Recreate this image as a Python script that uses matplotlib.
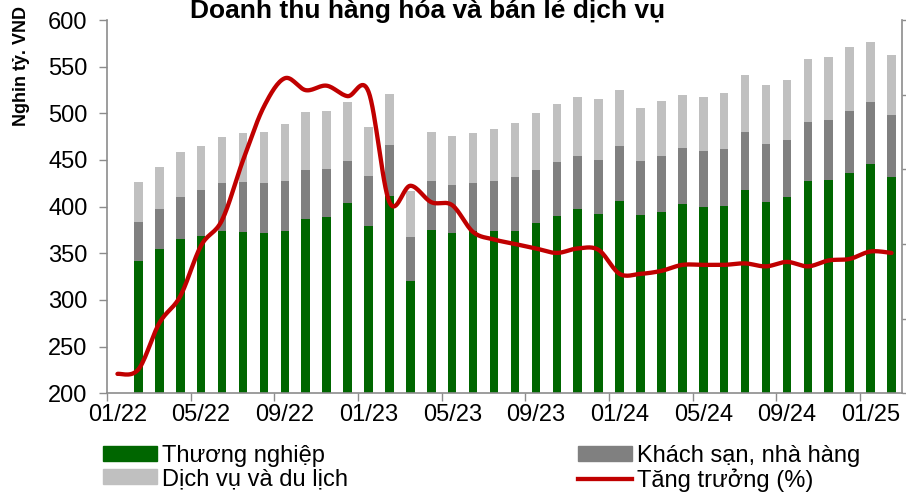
import numpy as np
import matplotlib
matplotlib.use('Agg')
import matplotlib.pyplot as plt
from matplotlib.patches import Patch
from matplotlib.lines import Line2D

plt.rcParams['font.family'] = ['Liberation Sans', 'DejaVu Sans']

# monthly data 01/22 .. 02/25 (thousand bn VND), 01/22 not shown
months = ["%02d/%02d" % (m, y) for y in (22, 23, 24, 25) for m in range(1, 13)][:38]
tick_labels = ["01/22", "05/22", "09/22", "01/23", "05/23", "09/23",
               "01/24", "05/24", "09/24", "01/25"]

thuong_nghiep = [np.nan, 341.5, 355.1, 365.8, 369.0, 374.0, 373.0, 371.9, 374.0, 386.9,
                 389.4, 404.1, 379.8, 411.7, 320.7, 375.4, 372.2, 373.7, 373.4, 374.4,
                 382.3, 390.5, 398.0, 392.6, 406.5, 391.5, 394.7, 403.3, 399.8, 401.2,
                 418.3, 405.4, 410.2, 428.0, 429.0, 436.2, 446.2, 432.3]
khach_san = [np.nan, 42.2, 42.8, 45.0, 49.0, 51.5, 53.6, 53.6, 54.0, 51.9,
             51.4, 44.7, 53.5, 54.5, 47.2, 52.2, 51.5, 52.1, 54.6, 57.2,
             56.8, 57.5, 56.4, 57.9, 58.7, 57.9, 59.7, 59.7, 60.3, 61.1,
             61.9, 62.2, 61.7, 62.6, 63.7, 65.8, 66.2, 66.1]
dich_vu = [np.nan, 42.5, 44.4, 47.6, 47.5, 49.3, 52.2, 54.4, 60.8, 62.8,
           61.9, 63.2, 51.9, 54.0, 49.0, 52.3, 51.9, 53.3, 55.4, 57.5,
           61.1, 62.2, 63.3, 65.1, 59.3, 55.8, 58.3, 56.9, 57.6, 59.7,
           61.1, 62.3, 63.7, 67.9, 67.9, 69.3, 64.3, 64.3]
tang_truong = [1.3, 1.6, 4.7, 6.5, 9.9, 11.6, 15.6, 19.2, 21.1, 20.3,
               20.6, 19.9, 20.2, 12.8, 13.9, 12.8, 12.6, 10.8, 10.3, 10.0,
               9.7, 9.4, 9.7, 9.6, 8.0, 8.0, 8.2, 8.6, 8.6, 8.6,
               8.7, 8.5, 8.8, 8.5, 8.9, 9.0, 9.5, 9.4]

GREEN = '#006600'
GRAY = '#808080'
LIGHT = '#c0c0c0'
RED = '#c00000'
AXIS = '#8c8c8c'


def smooth(xs, ys, n=16):
    # catmull-rom curve through the points, like Excel's smoothed line
    p = np.column_stack([xs, ys]).astype(float)
    p = np.vstack([p[0], p, p[-1]])
    out = []
    t = np.linspace(0, 1, n, endpoint=False)[:, None]
    for i in range(1, len(p) - 2):
        p0, p1, p2, p3 = p[i - 1], p[i], p[i + 1], p[i + 2]
        seg = 0.5 * (2 * p1 + (-p0 + p2) * t + (2 * p0 - 5 * p1 + 4 * p2 - p3) * t ** 2
                     + (-p0 + 3 * p1 - 3 * p2 + p3) * t ** 3)
        out.append(seg)
    out.append(p[-2][None, :])
    out = np.vstack(out)
    return out[:, 0], out[:, 1]


fig = plt.figure(figsize=(9.06, 4.94), dpi=100)
ax = fig.add_axes([107 / 906, 1 - 393.3 / 494, 795 / 906, 373.3 / 494])

x = np.arange(len(months))
g = np.array(thuong_nghiep)
k = np.array(khach_san)
d = np.array(dich_vu)
w = 0.41
ax.bar(x, g, w, color=GREEN, zorder=2)
ax.bar(x, k, w, bottom=g, color=GRAY, zorder=2)
ax.bar(x, d, w, bottom=g + k, color=LIGHT, zorder=2)

ax.set_xlim(-0.5, len(months) - 0.5)
ax.set_ylim(200, 600)
ax.set_yticks(range(200, 601, 50))

major = np.arange(-0.5, len(months) - 1, 4)
ax.set_xticks(major)
ax.set_xticklabels([])
ax.set_xticks(np.arange(0, len(months), 4), minor=True)
ax.set_xticklabels(tick_labels, minor=True)
ax.tick_params(axis='x', which='major', direction='out', length=6, width=1, color=AXIS)
ax.tick_params(axis='x', which='minor', length=0, pad=8, labelsize=17)
ax.tick_params(axis='y', direction='out', length=6, width=1, color=AXIS, pad=8, labelsize=17)

for s in ('top', 'right'):
    ax.spines[s].set_visible(False)
for s in ('left', 'bottom'):
    ax.spines[s].set_color(AXIS)
    ax.spines[s].set_linewidth(1.2)

ax2 = ax.twinx()
ax2.set_ylim(0, 25)
ax2.set_yticks(range(0, 26, 5))
ax2.tick_params(axis='y', direction='out', length=5, width=1, color=AXIS, labelright=False)
for s in ('top', 'left', 'bottom'):
    ax2.spines[s].set_visible(False)
ax2.spines['right'].set_color(AXIS)
ax2.spines['right'].set_linewidth(1.2)
sx, sy = smooth(x, tang_truong)
ax2.plot(sx, sy, color=RED, lw=3.1, solid_capstyle='round', zorder=3)

fig.text(428 / 906, 1 - 18 / 494, 'Doanh thu hàng hóa và bán lẻ dịch vụ',
         ha='center', va='baseline', fontsize=19, fontweight='bold')
fig.text(22 / 906, 1 - 66 / 494, 'Nghin tỷ. VND', rotation=90, ha='center', va='center',
         fontsize=13, fontweight='bold')

h_green = Patch(color=GREEN)
h_light = Patch(color=LIGHT)
h_gray = Patch(color=GRAY)
h_red = Line2D([], [], color=RED, lw=3.1)
leg_kw = dict(frameon=False, fontsize=17, borderpad=0, borderaxespad=0,
              handlelength=2.3, handleheight=0.6, handletextpad=0.2, labelspacing=0.05,
              loc='upper left')
fig.legend([h_green, h_light], ['Thương nghiệp', 'Dịch vụ và du lịch'],
           bbox_to_anchor=(103 / 906, 1 - 445 / 494), **leg_kw)
fig.legend([h_gray, h_red], ['Khách sạn, nhà hàng', 'Tăng trưởng (%)'],
           bbox_to_anchor=(578 / 906, 1 - 445 / 494), **leg_kw)

fig.savefig('out.png', dpi=100)
